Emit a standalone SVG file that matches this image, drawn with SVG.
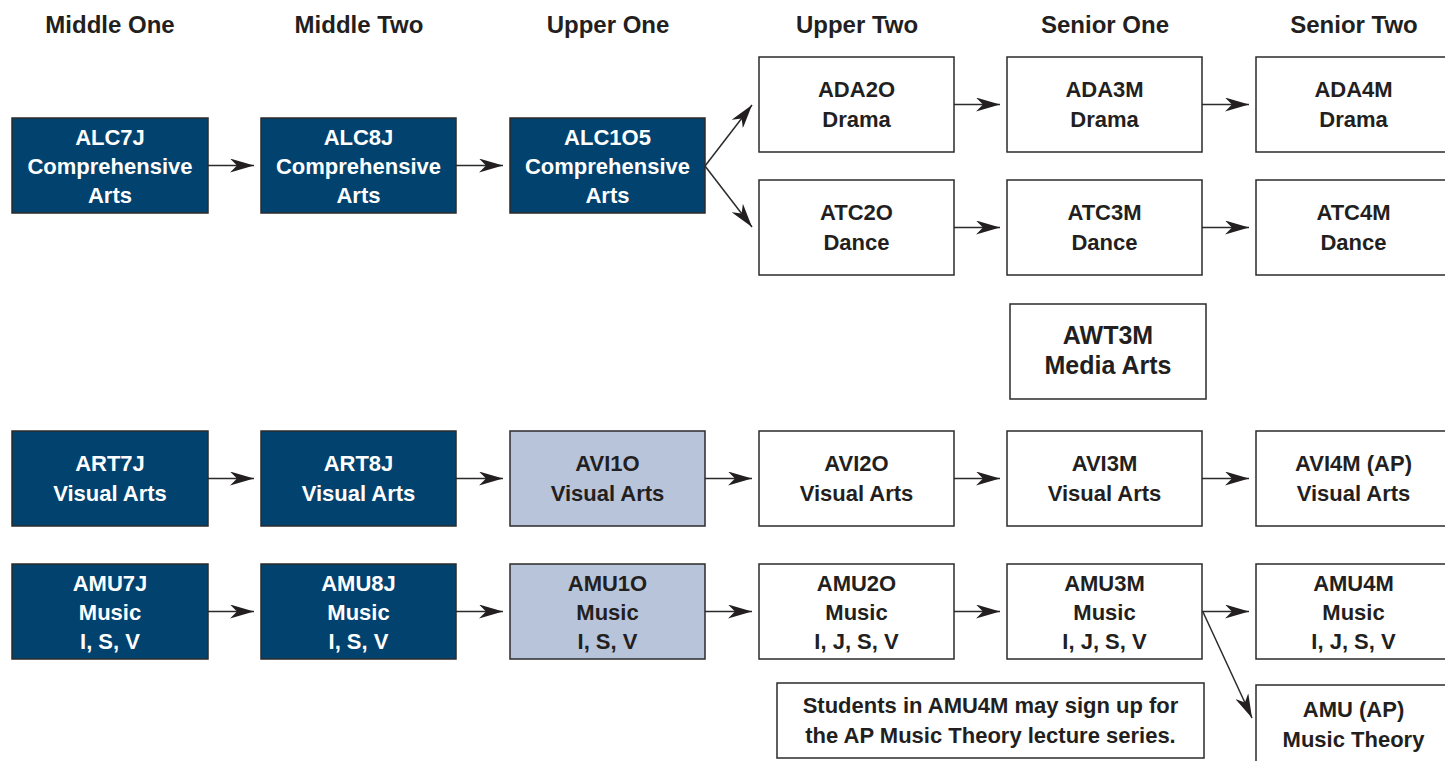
<svg xmlns="http://www.w3.org/2000/svg" width="1445" height="761" viewBox="0 0 1445 761">
<style>
  .bg{fill:#ffffff}
  .dark rect{fill:#01426f;stroke:#2b2b2b;stroke-width:1.5}
  .light rect{fill:#b8c4d9;stroke:#2b2b2b;stroke-width:1.5}
  .plain rect{fill:#ffffff;stroke:#2b2b2b;stroke-width:1.5}
  text{font-family:"Liberation Sans",Arial,sans-serif;font-weight:bold;text-anchor:middle;font-size:22px}
  .dark text{fill:#ffffff}
  .light text,.plain text,.hdr{fill:#231f20}
  .hdr{font-size:24px}
  .big{font-size:25px}
  .note{font-size:22px}
  .conn line{stroke:#2b2b2b;stroke-width:1.5;fill:none;marker-end:url(#ah)}
</style>
<defs>
  <marker id="ah" viewBox="0 0 24 14" refX="24" refY="7" markerWidth="24" markerHeight="14" markerUnits="userSpaceOnUse" orient="auto">
    <path d="M0,0 L24,7 L0,14 L7,7 Z" fill="#231f20"/>
  </marker>
</defs>
<rect class="bg" x="0" y="0" width="1445" height="761"/>

<g id="headers">
  <text class="hdr" x="110" y="33">Middle One</text>
  <text class="hdr" x="359" y="33">Middle Two</text>
  <text class="hdr" x="608" y="33">Upper One</text>
  <text class="hdr" x="857" y="33">Upper Two</text>
  <text class="hdr" x="1105" y="33">Senior One</text>
  <text class="hdr" x="1354" y="33">Senior Two</text>
</g>

<g class="conn" id="connectors">
  <line x1="208" y1="165.5" x2="254" y2="165.5"/>
  <line x1="456" y1="165.5" x2="503" y2="165.5"/>
  <line x1="705" y1="166" x2="752" y2="105"/>
  <line x1="705" y1="166" x2="752" y2="227"/>
  <line x1="954" y1="104.5" x2="1000" y2="104.5"/>
  <line x1="1202" y1="104.5" x2="1249" y2="104.5"/>
  <line x1="954" y1="227.5" x2="1000" y2="227.5"/>
  <line x1="1202" y1="227.5" x2="1249" y2="227.5"/>
  <line x1="208" y1="478.5" x2="254" y2="478.5"/>
  <line x1="456" y1="478.5" x2="503" y2="478.5"/>
  <line x1="705" y1="478.5" x2="752" y2="478.5"/>
  <line x1="954" y1="478.5" x2="1000" y2="478.5"/>
  <line x1="1202" y1="478.5" x2="1249" y2="478.5"/>
  <line x1="208" y1="611.5" x2="254" y2="611.5"/>
  <line x1="456" y1="611.5" x2="503" y2="611.5"/>
  <line x1="705" y1="611.5" x2="752" y2="611.5"/>
  <line x1="954" y1="611.5" x2="1000" y2="611.5"/>
  <line x1="1202" y1="611.5" x2="1249" y2="611.5"/>
  <line x1="1203" y1="612" x2="1252" y2="718"/>
</g>

<g id="ALC7J" class="dark"><rect x="12" y="118" width="196" height="95"/>
  <text x="110" y="145">ALC7J</text><text x="110" y="174">Comprehensive</text><text x="110" y="203">Arts</text></g>
<g id="ALC8J" class="dark"><rect x="261" y="118" width="195" height="95"/>
  <text x="358.5" y="145">ALC8J</text><text x="358.5" y="174">Comprehensive</text><text x="358.5" y="203">Arts</text></g>
<g id="ALC1O5" class="dark"><rect x="510" y="118" width="195" height="95"/>
  <text x="607.5" y="145">ALC1O5</text><text x="607.5" y="174">Comprehensive</text><text x="607.5" y="203">Arts</text></g>

<g id="ADA2O" class="plain"><rect x="759" y="57" width="195" height="95"/>
  <text x="856.5" y="97">ADA2O</text><text x="856.5" y="127">Drama</text></g>
<g id="ADA3M" class="plain"><rect x="1007" y="57" width="195" height="95"/>
  <text x="1104.5" y="97">ADA3M</text><text x="1104.5" y="127">Drama</text></g>
<g id="ADA4M" class="plain"><rect x="1256" y="57" width="196" height="95"/>
  <text x="1353.5" y="97">ADA4M</text><text x="1353.5" y="127">Drama</text></g>

<g id="ATC2O" class="plain"><rect x="759" y="180" width="195" height="95"/>
  <text x="856.5" y="220">ATC2O</text><text x="856.5" y="250">Dance</text></g>
<g id="ATC3M" class="plain"><rect x="1007" y="180" width="195" height="95"/>
  <text x="1104.5" y="220">ATC3M</text><text x="1104.5" y="250">Dance</text></g>
<g id="ATC4M" class="plain"><rect x="1256" y="180" width="196" height="95"/>
  <text x="1353.5" y="220">ATC4M</text><text x="1353.5" y="250">Dance</text></g>

<g id="AWT3M" class="plain"><rect x="1010" y="304" width="196" height="95"/>
  <text class="big" x="1108" y="344">AWT3M</text><text class="big" x="1108" y="374">Media Arts</text></g>

<g id="ART7J" class="dark"><rect x="12" y="431" width="196" height="95"/>
  <text x="110" y="471">ART7J</text><text x="110" y="501">Visual Arts</text></g>
<g id="ART8J" class="dark"><rect x="261" y="431" width="195" height="95"/>
  <text x="358.5" y="471">ART8J</text><text x="358.5" y="501">Visual Arts</text></g>
<g id="AVI1O" class="light"><rect x="510" y="431" width="195" height="95"/>
  <text x="607.5" y="471">AVI1O</text><text x="607.5" y="501">Visual Arts</text></g>
<g id="AVI2O" class="plain"><rect x="759" y="431" width="195" height="95"/>
  <text x="856.5" y="471">AVI2O</text><text x="856.5" y="501">Visual Arts</text></g>
<g id="AVI3M" class="plain"><rect x="1007" y="431" width="195" height="95"/>
  <text x="1104.5" y="471">AVI3M</text><text x="1104.5" y="501">Visual Arts</text></g>
<g id="AVI4M" class="plain"><rect x="1256" y="431" width="196" height="95"/>
  <text x="1353.5" y="471">AVI4M (AP)</text><text x="1353.5" y="501">Visual Arts</text></g>

<g id="AMU7J" class="dark"><rect x="12" y="564" width="196" height="95"/>
  <text x="110" y="591">AMU7J</text><text x="110" y="620">Music</text><text x="110" y="649">I, S, V</text></g>
<g id="AMU8J" class="dark"><rect x="261" y="564" width="195" height="95"/>
  <text x="358.5" y="591">AMU8J</text><text x="358.5" y="620">Music</text><text x="358.5" y="649">I, S, V</text></g>
<g id="AMU1O" class="light"><rect x="510" y="564" width="195" height="95"/>
  <text x="607.5" y="591">AMU1O</text><text x="607.5" y="620">Music</text><text x="607.5" y="649">I, S, V</text></g>
<g id="AMU2O" class="plain"><rect x="759" y="564" width="195" height="95"/>
  <text x="856.5" y="591">AMU2O</text><text x="856.5" y="620">Music</text><text x="856.5" y="649">I, J, S, V</text></g>
<g id="AMU3M" class="plain"><rect x="1007" y="564" width="195" height="95"/>
  <text x="1104.5" y="591">AMU3M</text><text x="1104.5" y="620">Music</text><text x="1104.5" y="649">I, J, S, V</text></g>
<g id="AMU4M" class="plain"><rect x="1256" y="564" width="196" height="95"/>
  <text x="1353.5" y="591">AMU4M</text><text x="1353.5" y="620">Music</text><text x="1353.5" y="649">I, J, S, V</text></g>

<g id="note" class="plain"><rect x="777" y="683" width="427" height="75"/>
  <text class="note" x="990.5" y="713">Students in AMU4M may sign up for</text>
  <text class="note" x="990.5" y="743">the AP Music Theory lecture series.</text></g>

<g id="AMUAP" class="plain"><rect x="1256" y="685" width="196" height="95"/>
  <text x="1353.5" y="717">AMU (AP)</text><text x="1353.5" y="747">Music Theory</text></g>
</svg>
